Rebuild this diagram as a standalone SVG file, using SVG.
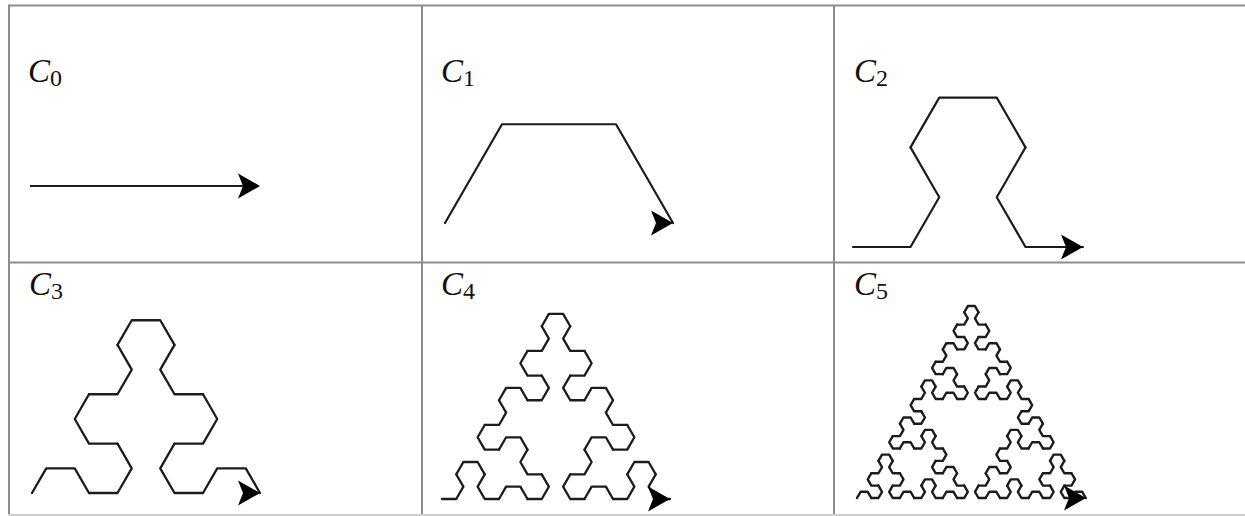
<svg xmlns="http://www.w3.org/2000/svg" xmlns:xlink="http://www.w3.org/1999/xlink" width="1245" height="516" viewBox="0 0 1245 516">
<style>
.grid{stroke:#8c8c8c;stroke-width:2;fill:none}
.gridlight{stroke:#cfcfcf;stroke-width:2;fill:none}
.seg{fill:none;stroke:#1c1c1c;stroke-linejoin:round;stroke-linecap:round}
.lbl{font-family:"Liberation Serif","Times New Roman",serif;font-size:33px;fill:#111}
.it{font-style:italic}
.sub{font-size:24px}
.arrow{fill:#000}
</style>
<defs>
<path id="S1" class="seg" d="M0 0 L0.5 0.8660254 L1.5 0.8660254 L2 0"/>
<g id="S2"><use href="#S1" transform="rotate(60) scale(1,-1)"/><use href="#S1" transform="translate(1,1.7320508)"/><use href="#S1" transform="translate(3,1.7320508) rotate(-60) scale(1,-1)"/></g>
<g id="S3"><use href="#S2" transform="rotate(60) scale(1,-1)"/><use href="#S2" transform="translate(2,3.4641016)"/><use href="#S2" transform="translate(6,3.4641016) rotate(-60) scale(1,-1)"/></g>
<g id="S4"><use href="#S3" transform="rotate(60) scale(1,-1)"/><use href="#S3" transform="translate(4,6.9282032)"/><use href="#S3" transform="translate(12,6.9282032) rotate(-60) scale(1,-1)"/></g>
<g id="S5"><use href="#S4" transform="rotate(60) scale(1,-1)"/><use href="#S4" transform="translate(8,13.8564065)"/><use href="#S4" transform="translate(24,13.8564065) rotate(-60) scale(1,-1)"/></g>
<path id="ah" class="arrow" d="M0 0 L-22 -12.5 L-17 0 L-22 12.5 Z"/>
</defs>
<rect width="1245" height="516" fill="#fff"/>
<g id="table">
<line class="grid" x1="8" y1="5.5" x2="1245" y2="5.5"/>
<line class="grid" x1="9" y1="5" x2="9" y2="516"/>
<line class="grid" x1="8" y1="262.5" x2="1245" y2="262.5"/>
<line class="grid" x1="422" y1="5" x2="422" y2="516"/>
<line class="grid" x1="834" y1="5" x2="834" y2="516"/>
<line class="gridlight" x1="8" y1="515" x2="1245" y2="515"/>
</g>
<g id="cell-c0">
<text class="lbl" x="28" y="82"><tspan class="it">C</tspan><tspan class="sub" dy="4">0</tspan></text>
<line x1="30" y1="186" x2="245" y2="186" stroke="#1c1c1c" stroke-width="2.2"/>
<use href="#ah" transform="translate(260,186)"/>
</g>
<g id="cell-c1">
<text class="lbl" x="441" y="82"><tspan class="it">C</tspan><tspan class="sub" dy="4">1</tspan></text>
<use href="#S1" transform="translate(445,223) scale(114,-114)" stroke-width="0.0193"/>
<use href="#ah" transform="translate(673,223)"/>
</g>
<g id="cell-c2">
<text class="lbl" x="854" y="82"><tspan class="it">C</tspan><tspan class="sub" dy="4">2</tspan></text>
<use href="#S2" transform="translate(853,247) scale(57.5,-57.5)" stroke-width="0.0383"/>
<use href="#ah" transform="translate(1083,247)"/>
</g>
<g id="cell-c3">
<text class="lbl" x="29" y="295"><tspan class="it">C</tspan><tspan class="sub" dy="4">3</tspan></text>
<use href="#S3" transform="translate(32,493) scale(28.5,-28.5)" stroke-width="0.0807"/>
<use href="#ah" transform="translate(260,493)"/>
</g>
<g id="cell-c4">
<text class="lbl" x="441" y="295"><tspan class="it">C</tspan><tspan class="sub" dy="4">4</tspan></text>
<use href="#S4" transform="translate(442,499) scale(14.25,-14.25)" stroke-width="0.1614"/>
<use href="#ah" transform="translate(670,499)"/>
</g>
<g id="cell-c5">
<text class="lbl" x="854" y="295"><tspan class="it">C</tspan><tspan class="sub" dy="4">5</tspan></text>
<use href="#S5" transform="translate(857,498) scale(7.15,-7.15)" stroke-width="0.3357"/>
<use href="#ah" transform="translate(1086,498)"/>
</g>
</svg>
